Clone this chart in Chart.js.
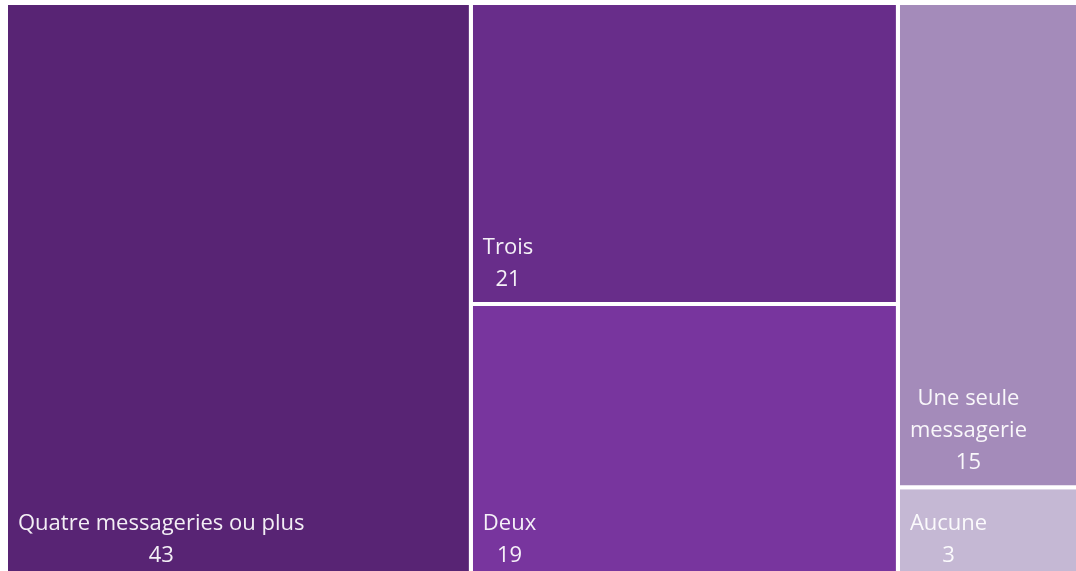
<!DOCTYPE html>
<html>
<head>
<meta charset="utf-8">
<script src="https://cdn.jsdelivr.net/npm/chart.js@4/dist/chart.umd.min.js"></script>
<style>
  html, body { margin: 0; padding: 0; background: #ffffff; overflow: hidden; }
  #wrap { position: absolute; left: 0; top: 0; width: 1092px; height: 584px; }
</style>
</head>
<body>
<div id="wrap"><canvas id="c"></canvas></div>
<script>
// ---- data ----
const categories = ["Quatre messageries ou plus", "Trois", "Deux", "Une seule messagerie", "Aucune"];
const values = [43.0, 20.6, 18.9, 14.6, 2.8];
const displayValues = [43, 21, 19, 15, 3];
const columns = [[0], [1, 2], [3, 4]];
const colors = ["#582474", "#682d8a", "#78359e", "#a48bba", "#c5b8d4"];

// ---- treemap layout in data units (x: cumulative value, y: 0..100 per column) ----
const total = values.reduce((a, b) => a + b, 0);
const cells = [];
let xAcc = 0;
columns.forEach(col => {
  const colSum = col.reduce((s, i) => s + values[i], 0);
  let yAcc = 0;
  col.forEach(i => {
    const h = values[i] / colSum * 100;
    cells[i] = { x0: xAcc, x1: xAcc + colSum, y0: yAcc, y1: yAcc + h };
    yAcc += h;
  });
  xAcc += colSum;
});

const datasets = cells.map((c, i) => ({
  label: categories[i],
  data: [
    { x: c.x0, y: c.y0 }, { x: c.x1, y: c.y0 }, { x: c.x1, y: c.y1 },
    { x: c.x0, y: c.y1 }, { x: c.x0, y: c.y0 }
  ],
  showLine: true,
  fill: 'shape',
  backgroundColor: colors[i],
  borderColor: '#ffffff',
  borderWidth: 4,
  borderJoinStyle: 'miter',
  tension: 0,
  pointRadius: 0,
  pointHoverRadius: 0
}));

const FONT = '"Open Sans", "Noto Sans", sans-serif';
const FONT_SIZE = 22;
const LINE_H = 32;

const labelPlugin = {
  id: 'cellLabels',
  afterDatasetsDraw(chart) {
    const ctx = chart.ctx;
    const xs = chart.scales.x, ys = chart.scales.y;
    ctx.save();
    ctx.font = FONT_SIZE + 'px ' + FONT;
    ctx.fillStyle = 'rgba(255,255,255,0.93)';
    ctx.textBaseline = 'alphabetic';
    cells.forEach((c, i) => {
      const left = xs.getPixelForValue(c.x0);
      const right = xs.getPixelForValue(c.x1);
      const bottom = ys.getPixelForValue(c.y1);
      const maxW = right - left - 24;
      // word-wrap the category name
      const words = categories[i].split(' ');
      const lines = [];
      let cur = '';
      words.forEach(w => {
        const test = cur ? cur + ' ' + w : w;
        if (cur && ctx.measureText(test).width > maxW) { lines.push(cur); cur = w; }
        else cur = test;
      });
      if (cur) lines.push(cur);
      lines.push(String(displayValues[i]));
      const blockW = Math.max(...lines.map(l => ctx.measureText(l).width));
      const bx = left + 12;
      const cx = bx + blockW / 2;
      ctx.textAlign = 'center';
      const lastBase = bottom - 18;
      lines.forEach((l, k) => {
        const y = lastBase - (lines.length - 1 - k) * LINE_H;
        ctx.fillText(l, cx, y);
      });
    });
    ctx.restore();
  }
};

new Chart(document.getElementById('c'), {
  type: 'scatter',
  data: { datasets },
  options: {
    responsive: true,
    maintainAspectRatio: false,
    animation: false,
    layout: { padding: { left: 6, right: 6, top: 3, bottom: 4 } },
    plugins: { legend: { display: false }, tooltip: { enabled: false } },
    events: [],
    scales: {
      x: { type: 'linear', min: 0, max: total, display: false },
      y: { type: 'linear', min: 0, max: 100, reverse: true, display: false }
    }
  },
  plugins: [labelPlugin]
});
</script>
</body>
</html>
